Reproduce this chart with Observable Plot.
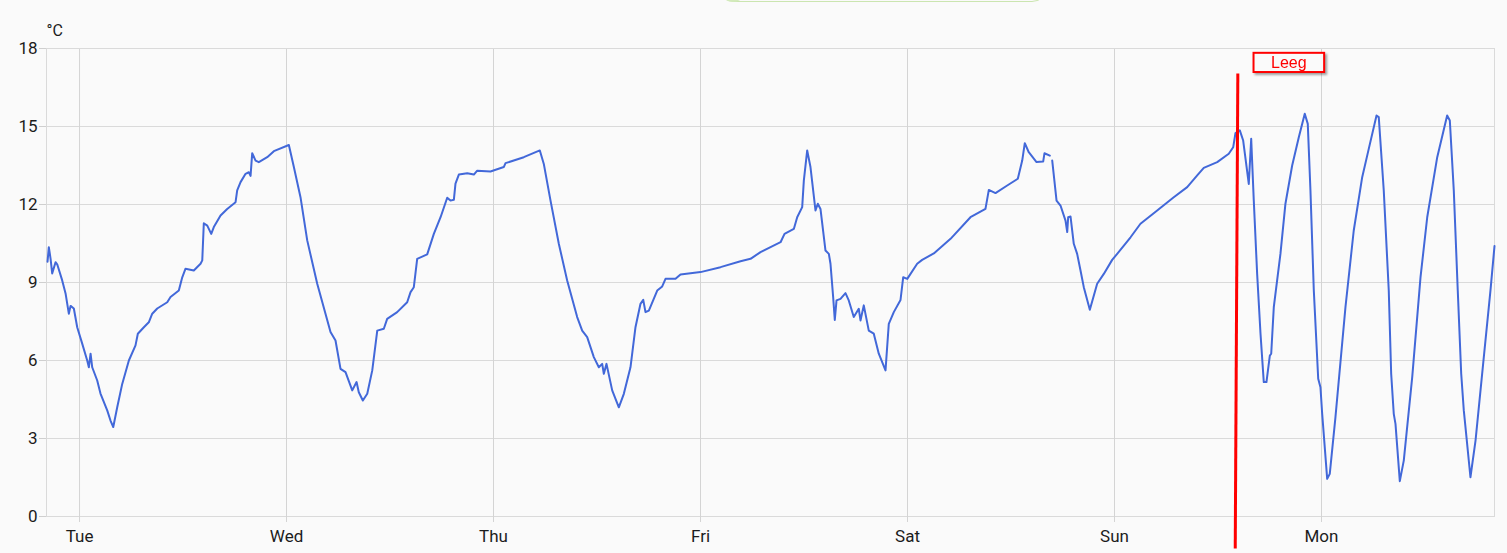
<!DOCTYPE html>
<html><head><meta charset="utf-8">
<script src="https://cdn.jsdelivr.net/npm/d3@7"></script>
<script src="https://cdn.jsdelivr.net/npm/@observablehq/plot@0.6"></script>
<style>
html,body{margin:0;padding:0;background:#fafafa;overflow:hidden}
#wrap{position:relative;width:1507px;height:553px}
.pill{position:absolute;left:718px;top:-30px;width:330px;height:32px;border:1.5px solid #cbe5b0;border-radius:17px;box-sizing:border-box}
.dot{position:absolute;left:719px;top:-26px;width:28px;height:28px;border-radius:50%;background:#d3eabb}
#chart{position:absolute;left:0;top:0}
</style></head><body><div id="wrap"><div id="chart"></div><div class="pill"></div><div class="dot"></div></div>
<script>
// Data: hours since Tuesday 00:00 and temperature (°C); null = gap in the record
const startDate = "2024-01-02T00:00:00Z"; // a Tuesday
const hours = [
-3.71,-3.56,-3.36,-3.17,-2.78,-2.59,-2.01,-1.62,-1.24,-1.04,-0.66,-0.27,0.31,0.89,1.08,1.28,1.47,2.05,2.43,3.21,3.59,3.91,4.37,4.95,5.72,6.49,6.76,7.46,8.03,8.43,9.01,10.17,10.55,11.51,11.91,12.29,13.25,14.03,14.23,14.41,14.81,15.27,15.57,16.35,17.12,18.09,18.28,18.67,19.25,19.63,19.83,20.02,20.41,20.79,21.76,22.53,24.27,24.85,25.62,26.40,27.56,29.10,29.68,30.26,30.84,31.62,32.12,32.38,32.85,33.36,33.94,34.52,35.28,35.67,36.83,37.99,38.38,38.76,39.15,40.31,41.08,41.86,42.63,43.01,43.40,43.59,43.98,44.95,45.72,46.11,47.65,49.19,49.39,51.51,53.37,53.83,54.61,55.57,56.54,57.70,58.28,58.86,59.63,60.21,60.60,60.79,61.10,61.76,62.53,63.11,63.88,64.46,65.04,65.36,65.62,66.01,66.98,67.56,67.94,69.10,69.68,72.00,74.32,76.64,77.80,78.96,80.12,81.28,81.74,82.82,83.21,83.79,83.98,84.37,84.75,85.33,85.60,85.91,86.49,86.88,87.07,87.38,87.57,87.77,88.23,88.81,89.19,89.77,90.35,90.55,90.93,91.51,92.09,92.67,93.45,93.83,94.41,95.19,95.50,95.97,97.12,97.70,99.05,100.99,103.30,105.04,105.43,106.20,107.56,108.79,109.30,109.60,110.06,110.96,111.73,111.88,112.50,112.64,112.78,113.28,113.74,114.32,114.52,114.63,114.90,115.28,115.67,116.06,116.44,117.14,117.99,118.76,119.73,120.31,121.86,123.01,124.95,126.87,128.43,129.59,130.35,131.91,133.25,133.76,134.03,134.53,134.92,135.57,135.85,136.15,136.54,136.93,137.31,137.62,138.01,138.17,138.47,139.24,139.82,140.60,141.37,142.06,142.41,142.72,143.11,143.62,143.88,144.08,144.66,144.96,145.62,146.78,147.74,148.72,149.48,150.38,150.64,151.22,151.80,152.08,152.38,152.58,153.08,153.54,154.52,155.48,156.26,157.42,158.57,158.88,159.34,159.80,160.20,160.50,160.81,161.27,161.86,162.82,163.59,164.06
];
const temps = [
9.8,10.36,9.92,9.35,9.78,9.7,9.08,8.58,7.8,8.1,8.0,7.28,6.65,6.0,5.74,6.26,5.74,5.23,4.73,4.08,3.69,3.44,4.2,5.1,6.0,6.58,7.03,7.28,7.47,7.8,8.0,8.24,8.44,8.69,9.2,9.53,9.46,9.72,9.85,11.28,11.19,10.87,11.13,11.58,11.83,12.09,12.54,12.86,13.18,13.24,13.1,13.97,13.69,13.63,13.82,14.05,14.29,13.44,12.28,10.62,8.95,7.1,6.77,5.68,5.55,4.85,5.17,4.78,4.46,4.72,5.62,7.15,7.22,7.6,7.86,8.24,8.63,8.82,9.91,10.08,10.87,11.51,12.26,12.15,12.18,12.8,13.15,13.2,13.15,13.3,13.27,13.44,13.59,13.82,14.08,13.56,12.15,10.49,9.08,7.67,7.15,6.9,6.13,5.74,5.87,5.49,5.87,4.85,4.2,4.72,5.74,7.28,8.18,8.33,7.86,7.92,8.69,8.85,9.14,9.14,9.31,9.4,9.59,9.82,9.91,10.17,10.36,10.55,10.87,11.06,11.51,11.9,12.92,14.08,13.44,11.77,12.03,11.83,10.23,10.1,9.72,8.44,7.56,8.31,8.37,8.59,8.31,7.67,7.99,7.54,8.12,7.15,7.03,6.26,5.62,7.41,7.86,8.33,9.2,9.14,9.72,9.87,10.12,10.68,11.51,11.83,12.56,12.44,12.73,12.99,13.69,14.36,14.01,13.63,13.65,13.97,13.88,null,13.69,12.15,11.96,11.38,10.94,11.51,11.54,10.49,10.1,9.46,8.82,7.95,8.95,9.33,9.87,10.1,10.74,11.26,11.77,12.28,12.67,13.12,13.41,13.63,13.95,14.2,14.75,14.85,14.46,12.79,14.53,12.15,9.33,7.03,5.17,5.17,6.19,6.26,8.05,10.1,12.03,13.5,14.59,15.49,15.1,12.54,8.69,5.3,4.97,3.95,1.45,1.64,3.82,8.05,11.0,13.05,14.14,15.42,15.36,12.54,8.69,5.49,3.95,3.56,1.36,2.15,5.36,9.2,11.51,13.82,15.42,15.23,12.54,8.69,5.49,4.08,3.05,1.51,2.92,6.13,8.69,10.4
];
const yTicks = [0, 3, 6, 9, 12, 15, 18];
const windowHours = [-3.83, 164.06];
const unitLabel = "°C";
// Annotation drawn on the chart: label, time at top / bottom of its marker line, and its vertical extent (°C)
const annotationLabels = ["Leeg"];
const annotationTopHours = [134.3];
const annotationBottomHours = [134.0];
const annotationTop = [17.04];
const annotationBottom = [-1.23];

const t0 = new Date(startDate);
const toDate = h => new Date(t0.getTime() + h * 3600e3);
const series = hours.map((h, i) => ({time: toDate(h), temp: temps[i]}));
const xDomain = windowHours.map(toDate);
const dayTicks = d3.utcDay.range(d3.utcDay.ceil(xDomain[0]), xDomain[1]);
const ann = annotationLabels.map((label, i) => ({
  label,
  x1: toDate(annotationTopHours[i]), x2: toDate(annotationBottomHours[i]),
  y1: annotationTop[i], y2: annotationBottom[i]
}));

const chart = Plot.plot({
  width: 1507, height: 553,
  marginLeft: 46, marginRight: 13, marginTop: 48, marginBottom: 37,
  style: {fontFamily: "Roboto, sans-serif", fontSize: "17px", background: "#fafafa", color: "#1c1c1c", overflow: "visible"},
  x: {type: "utc", domain: xDomain},
  y: {domain: [0, 18]},
  marks: [
    Plot.gridY(yTicks, {stroke: "#dadada", strokeOpacity: 1}),
    Plot.gridX(dayTicks, {stroke: "#d4d4d4", strokeOpacity: 1}),
    Plot.frame({stroke: "#dadada"}),
    Plot.axisY(yTicks, {tickSize: 7, tickPadding: 2, stroke: "#cfcfcf", fill: "#1c1c1c", label: null}),
    Plot.axisX(dayTicks, {tickSize: 6, tickPadding: 7, stroke: "#d4d4d4", fill: "#1c1c1c", label: null, tickFormat: d3.utcFormat("%a")}),
    Plot.text([unitLabel], {frameAnchor: "top-left", dy: -13, textAnchor: "start", lineAnchor: "bottom", fill: "#1c1c1c", fontSize: 16}),
    Plot.line(series, {x: "time", y: "temp", stroke: "#4268d9", strokeWidth: 2, curve: "linear"}),
    Plot.link(ann, {x1: "x1", y1: "y1", x2: "x2", y2: "y2", stroke: "#ff0000", strokeWidth: 3, strokeLinecap: "butt"}),
    Plot.text(ann, {x: "x1", y: 18, text: "label", dx: 51, dy: 14, fill: "#ff0000", fontSize: 16, fontFamily: "Liberation Sans, Arial, sans-serif"})
  ]
});
document.getElementById("chart").appendChild(chart);

// soft shadow on the marker line, box + shadow around the annotation label
chart.querySelectorAll("line, path").forEach(el => {
  if ((el.getAttribute("stroke") || "").toLowerCase() === "#ff0000") el.style.filter = "drop-shadow(2px 2px 1.5px rgba(0,0,0,0.35))";
});
chart.querySelectorAll("text").forEach(t => {
  if (!annotationLabels.includes(t.textContent)) return;
  const b = t.getBBox();
  const cx = b.x + b.width / 2;
  const r = document.createElementNS("http://www.w3.org/2000/svg", "rect");
  r.setAttribute("x", cx - 35.3); r.setAttribute("width", 70.6);
  r.setAttribute("y", b.y - 0.8); r.setAttribute("height", b.height + 2.2);
  r.setAttribute("fill", "#fafafa"); r.setAttribute("stroke", "#ff0000"); r.setAttribute("stroke-width", 2);
  r.setAttribute("transform", t.getAttribute("transform") || "");
  const parent = t.parentNode;
  const g = document.createElementNS("http://www.w3.org/2000/svg", "g");
  g.style.filter = "drop-shadow(2px 2px 1px rgba(0,0,0,0.35))";
  parent.insertBefore(g, t);
  g.appendChild(r);
  g.appendChild(t);
});
</script></body></html>
